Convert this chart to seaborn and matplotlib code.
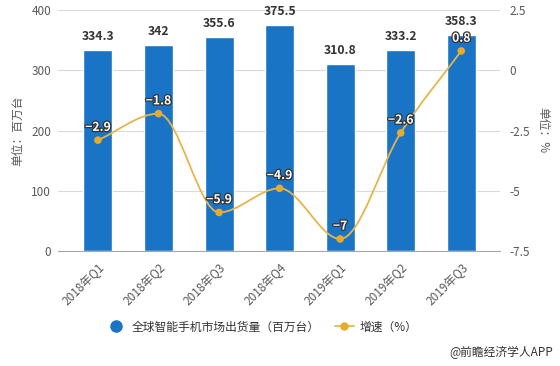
import numpy as np
import pandas as pd
import matplotlib
matplotlib.use('Agg')
import matplotlib.pyplot as plt
import matplotlib.patheffects as pe
from matplotlib.path import Path
from matplotlib.patches import PathPatch
from matplotlib.lines import Line2D
import seaborn as sns

# Data
quarters = ['2018年Q1', '2018年Q2', '2018年Q3', '2018年Q4', '2019年Q1', '2019年Q2', '2019年Q3']
shipments = [334.3, 342, 355.6, 375.5, 310.8, 333.2, 358.3]
growth = [-2.9, -1.8, -5.9, -4.9, -7, -2.6, 0.8]
growth_labels = ['−2.9', '−1.8', '−5.9', '−4.9', '−7', '−2.6', '0.8']
shipment_labels = ['334.3', '342', '355.6', '375.5', '310.8', '333.2', '358.3']

BAR_COLOR = '#1a74c6'
LINE_COLOR = '#e6b54a'
MARKER_COLOR = '#e8aa2a'
TEXT_GRAY = '#595959'

sns.set_style('white')
plt.rcParams['font.family'] = ['Noto Sans CJK SC', 'DejaVu Sans']
plt.rcParams['axes.unicode_minus'] = False

df = pd.DataFrame({'quarter': quarters, 'shipments': shipments, 'growth': growth})
df['pos'] = np.arange(len(df))

fig = plt.figure(figsize=(5.6, 3.66), dpi=100)
ax = fig.add_axes([58 / 560, 1 - 251 / 366, 442 / 560, 241 / 366])

sns.barplot(data=df, x='quarter', y='shipments', color=BAR_COLOR, width=0.48,
            saturation=1, ax=ax)
ax.set_xlim(-0.66, 6.64)
ax.set_ylim(0, 400)
ax.set_yticks([0, 100, 200, 300, 400])
ax.yaxis.grid(True, color='#d9d9d9', linewidth=0.8)
ax.set_axisbelow(True)
for s in ['top', 'right', 'left']:
    ax.spines[s].set_visible(False)
ax.spines['bottom'].set_color('#a6a6a6')
ax.tick_params(axis='y', length=0, pad=5, labelsize=8.5, labelcolor=TEXT_GRAY)
ax.tick_params(axis='x', length=4, color='#a6a6a6', pad=3, labelsize=8.5, labelcolor=TEXT_GRAY)
plt.setp(ax.get_xticklabels(), rotation=45, ha='right', rotation_mode='anchor')
ax.set_xlabel('')
ax.set_ylabel('单位：百万台', fontsize=8.5, color=TEXT_GRAY, labelpad=5)

for i, v in enumerate(shipments):
    ax.annotate(shipment_labels[i], (i, v), xytext=(0, 5), textcoords='offset points',
                ha='center', va='bottom', fontsize=8.8, fontweight='bold', color='#333333')

# growth line on right axis
ax2 = ax.twinx()
ax2.set_ylim(-7.5, 2.5)
ax2.set_yticks([2.5, 0, -2.5, -5, -7.5])
ax2.set_yticklabels(['2.5', '0', '-2.5', '-5', '-7.5'])
for s in ax2.spines.values():
    s.set_visible(False)
ax2.tick_params(axis='y', length=0, pad=7, labelsize=8.5, labelcolor=TEXT_GRAY)
ax2.set_ylabel('单位：%', fontsize=8.5, color=TEXT_GRAY, rotation=-90, labelpad=14)

# smooth curve through the points (monotone cubic, drawn as bezier path)
x = df['pos'].to_numpy(dtype=float)
y = df['growth'].to_numpy(dtype=float)
d = np.diff(y)
m = np.zeros_like(y)
m[0], m[-1] = d[0], d[-1]
for k in range(1, len(y) - 1):
    m[k] = 0 if d[k - 1] * d[k] <= 0 else (d[k - 1] + d[k]) / 2
verts = [(x[0], y[0])]
codes = [Path.MOVETO]
for k in range(len(x) - 1):
    verts += [(x[k] + 1 / 3, y[k] + m[k] / 3), (x[k + 1] - 1 / 3, y[k + 1] - m[k + 1] / 3),
              (x[k + 1], y[k + 1])]
    codes += [Path.CURVE4] * 3
ax2.add_patch(PathPatch(Path(verts, codes), fill=False, edgecolor=LINE_COLOR, linewidth=1.3))

sns.scatterplot(data=df, x='pos', y='growth', color=MARKER_COLOR, s=30, edgecolor='none',
                ax=ax2, zorder=3, legend=False)
ax2.set_xlabel('')

for i, v in enumerate(growth):
    ax2.annotate(growth_labels[i], (i, v), xytext=(0, 4.5), textcoords='offset points',
                 ha='center', va='bottom', fontsize=8.8, fontweight='bold', color='white',
                 path_effects=[pe.withStroke(linewidth=1.8, foreground='#333333')])

handles = [
    Line2D([], [], marker='o', linestyle='none', markersize=8, color=BAR_COLOR),
    Line2D([], [], marker='o', color=LINE_COLOR, markerfacecolor=MARKER_COLOR,
           markeredgecolor=MARKER_COLOR, markersize=5, linewidth=1.3),
]
fig.legend(handles, ['全球智能手机市场出货量（百万台）', '增速（%）'], loc='center',
           bbox_to_anchor=(262 / 560, 1 - 327 / 366), ncol=2, frameon=False,
           fontsize=8.5, handlelength=1.6, handletextpad=0.5, columnspacing=1.3,
           labelcolor='#333333')

fig.text(553 / 560, 1 - 352 / 366, '@前瞻经济学人APP', ha='right', va='center',
         fontsize=8.5, color='#333333')

fig.savefig('out.png', dpi=100)
